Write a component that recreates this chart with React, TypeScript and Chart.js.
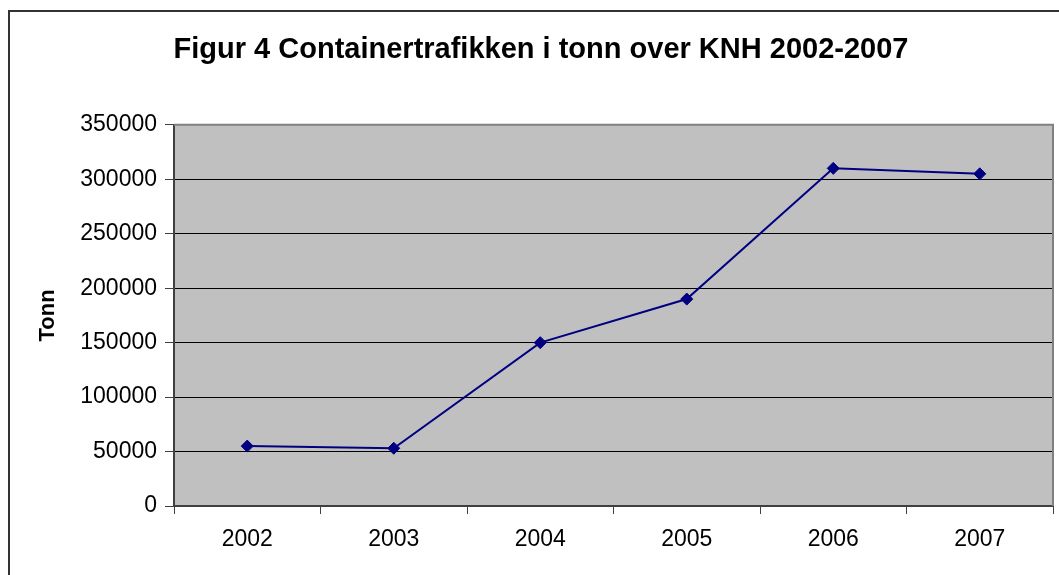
import React, { useEffect, useRef } from "react";
import { Chart, registerables } from "chart.js";

Chart.register(...registerables);

const categories = ["2002", "2003", "2004", "2005", "2006", "2007"];
const tonnValues = [55000, 53000, 150000, 190000, 310000, 305000];
const yMin = 0;
const yMax = 350000;
const yStep = 50000;
const titleText = "Figur 4 Containertrafikken i tonn over KNH 2002-2007";
const yAxisTitle = "Tonn";

const FONT = "'Liberation Sans', Arial, Helvetica, sans-serif";

const plotArea = {
  id: "plotArea",
  beforeDraw(chart: any) {
    const { ctx, chartArea } = chart;
    const { left, top, width, height } = chartArea;
    ctx.save();
    ctx.fillStyle = "#c0c0c0";
    ctx.fillRect(left, top, width, height);
    ctx.restore();
  },
  beforeDatasetsDraw(chart: any) {
    const { ctx, chartArea } = chart;
    const { left, top, right, bottom } = chartArea;
    ctx.save();
    ctx.strokeStyle = "#808080";
    ctx.lineWidth = 2;
    ctx.beginPath();
    ctx.moveTo(left, top);
    ctx.lineTo(right, top);
    ctx.lineTo(right, bottom);
    ctx.stroke();
    ctx.restore();
  },
};

export default function App() {
  const canvasRef = useRef<HTMLCanvasElement | null>(null);

  useEffect(() => {
    if (!canvasRef.current) return;
    const chart = new Chart(canvasRef.current, {
      type: "line",
      data: {
        labels: categories,
        datasets: [
          {
            label: yAxisTitle,
            data: tonnValues,
            borderColor: "#000080",
            backgroundColor: "#000080",
            borderWidth: 2,
            pointStyle: "rectRot",
            pointRadius: 6,
            pointHoverRadius: 6,
            pointBackgroundColor: "#000080",
            pointBorderColor: "#000080",
            pointBorderWidth: 1,
            tension: 0,
            fill: false,
          },
        ],
      },
      options: {
        responsive: false,
        animation: false,
        devicePixelRatio: 1,
        layout: { padding: { left: 0, right: 0, top: 0, bottom: 0 } },
        plugins: {
          legend: { display: false },
          tooltip: { enabled: false },
          title: {
            display: true,
            text: titleText,
            color: "#000",
            font: { family: FONT, size: 29, weight: "bold" },
            padding: { top: 21, bottom: 57 },
          },
        },
        scales: {
          x: {
            type: "category",
            offset: true,
            grid: {
              offset: true,
              drawOnChartArea: false,
              drawTicks: true,
              tickLength: 8,
              tickColor: "#404040",
              tickWidth: 1,
            },
            border: { display: true, color: "#404040", width: 2 },
            ticks: {
              color: "#000",
              font: { family: FONT, size: 23 },
              padding: 12,
              maxRotation: 0,
              autoSkip: false,
            },
            afterFit: (s: any) => {
              s.height = 69;
            },
          },
          y: {
            min: yMin,
            max: yMax,
            grid: {
              color: "#000",
              lineWidth: 1,
              drawTicks: true,
              tickLength: 9,
              tickColor: "#404040",
              tickWidth: 1,
            },
            border: { display: true, color: "#404040", width: 2 },
            ticks: {
              stepSize: yStep,
              color: "#000",
              font: { family: FONT, size: 23 },
              padding: 8,
              callback: (v: any) => String(v),
            },
            title: {
              display: true,
              text: yAxisTitle,
              color: "#000",
              font: { family: FONT, size: 22, weight: "bold" },
              padding: { top: 25, bottom: 0 },
            },
            afterFit: (s: any) => {
              s.width = 164;
            },
          },
          ySpacer: {
            position: "right",
            min: yMin,
            max: yMax,
            grid: { display: false, drawOnChartArea: false, drawTicks: false },
            border: { display: false },
            ticks: { display: false },
            afterFit: (s: any) => {
              s.width = 19;
            },
          },
        },
      },
      plugins: [plotArea],
    });
    return () => chart.destroy();
  }, []);

  return (
    <div
      style={{
        position: "fixed",
        left: 8,
        top: 10,
        width: 1051,
        height: 565,
        overflow: "hidden",
        background: "#fff",
      }}
    >
      <div
        style={{
          width: 1064,
          height: 580,
          borderLeft: "2px solid #333",
          borderTop: "2px solid #333",
          boxSizing: "border-box",
        }}
      >
        <canvas ref={canvasRef} width={1062} height={563} style={{ display: "block" }} />
      </div>
    </div>
  );
}
